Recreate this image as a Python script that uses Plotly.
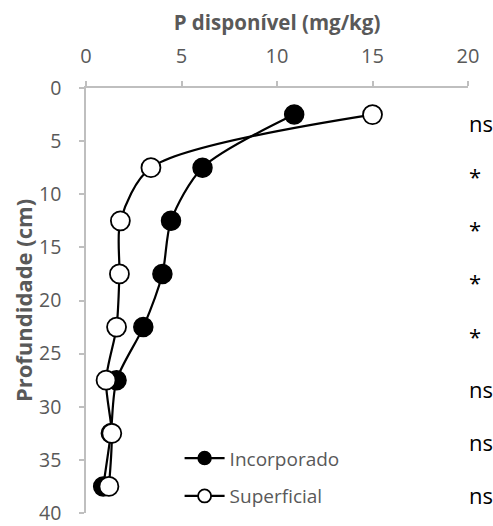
import plotly.graph_objects as go

depth = [2.5, 7.5, 12.5, 17.5, 22.5, 27.5, 32.5, 37.5]
incorporado = [10.9, 6.1, 4.45, 4.0, 3.0, 1.6, 1.3, 0.9]
superficial = [15.0, 3.4, 1.8, 1.75, 1.6, 1.05, 1.35, 1.2]
signif = ["ns", "*", "*", "*", "*", "ns", "ns", "ns"]
x_ticks = [0, 5, 10, 15, 20]
y_ticks = [0, 5, 10, 15, 20, 25, 30, 35, 40]

FONT = "Open Sans"
GRAY = "#595959"
AX = "#bfbfbf"

fig = go.Figure()
fig.add_trace(go.Scatter(
    x=incorporado, y=depth, mode="lines+markers", name="Incorporado",
    line=dict(color="black", width=2.2, shape="spline", smoothing=0.8),
    marker=dict(size=19, color="black", line=dict(color="black", width=1.5)),
    showlegend=False, cliponaxis=False))
fig.add_trace(go.Scatter(
    x=superficial, y=depth, mode="lines+markers", name="Superficial",
    line=dict(color="black", width=2.2, shape="spline", smoothing=0.8),
    marker=dict(size=19, color="white", line=dict(color="black", width=1.8)),
    showlegend=False, cliponaxis=False))
# legend entries (smaller symbols as in the reference legend)
fig.add_trace(go.Scatter(
    x=[None], y=[None], mode="lines+markers", name="Incorporado",
    line=dict(color="black", width=2.2),
    marker=dict(size=13, color="black", line=dict(color="black", width=1.5)),
    legend="legend"))
fig.add_trace(go.Scatter(
    x=[None], y=[None], mode="lines+markers", name="Superficial",
    line=dict(color="black", width=2.2),
    marker=dict(size=13, color="white", line=dict(color="black", width=1.8)),
    legend="legend2"))

for d, s in zip(depth, signif):
    fig.add_annotation(x=19.95, y=d + 0.8, xref="x", yref="y", text=s,
                       showarrow=False, xanchor="left", yanchor="middle",
                       font=dict(family=FONT, size=22, color="black"))

leg_common = dict(font=dict(family=FONT, size=19, color=GRAY),
                  bgcolor="rgba(0,0,0,0)", xanchor="left", yanchor="middle",
                  itemwidth=40)
PB = 515  # plot bottom pixel
PH = PB - 88
fig.update_layout(
    width=493, height=526,
    margin=dict(l=86, r=25, t=88, b=526 - PB),
    paper_bgcolor="white", plot_bgcolor="white",
    showlegend=True,
    legend=dict(x=0.245, y=(PB - 460) / PH, **leg_common),
    legend2=dict(x=0.245, y=(PB - 498) / PH, **leg_common),
    xaxis=dict(
        side="top", range=[0, 20], tickvals=x_ticks, showgrid=False,
        zeroline=False, showline=True, linecolor=AX, linewidth=1.5,
        ticks="outside", ticklen=5, tickcolor=AX, tickwidth=1.5,
        tickfont=dict(family=FONT, size=20, color=GRAY),
        ticklabelstandoff=10, ticklabeloverflow="allow", automargin=False,
        title=dict(text="<b>P disponível (mg/kg)</b>", standoff=6,
                   font=dict(family=FONT, size=20.5, color=GRAY))),
    yaxis=dict(
        range=[40, 0], tickvals=y_ticks, showgrid=False,
        zeroline=False, showline=True, linecolor=AX, linewidth=1.5,
        ticks="outside", ticklen=5, tickcolor=AX, tickwidth=1.5,
        tickfont=dict(family=FONT, size=19.5, color=GRAY),
        ticklabelstandoff=14, ticklabeloverflow="allow", automargin=False,
        title=dict(text="<b>Profundidade (cm)</b>", standoff=0,
                   font=dict(family=FONT, size=22, color=GRAY))),
)

fig.write_html("out.html")
